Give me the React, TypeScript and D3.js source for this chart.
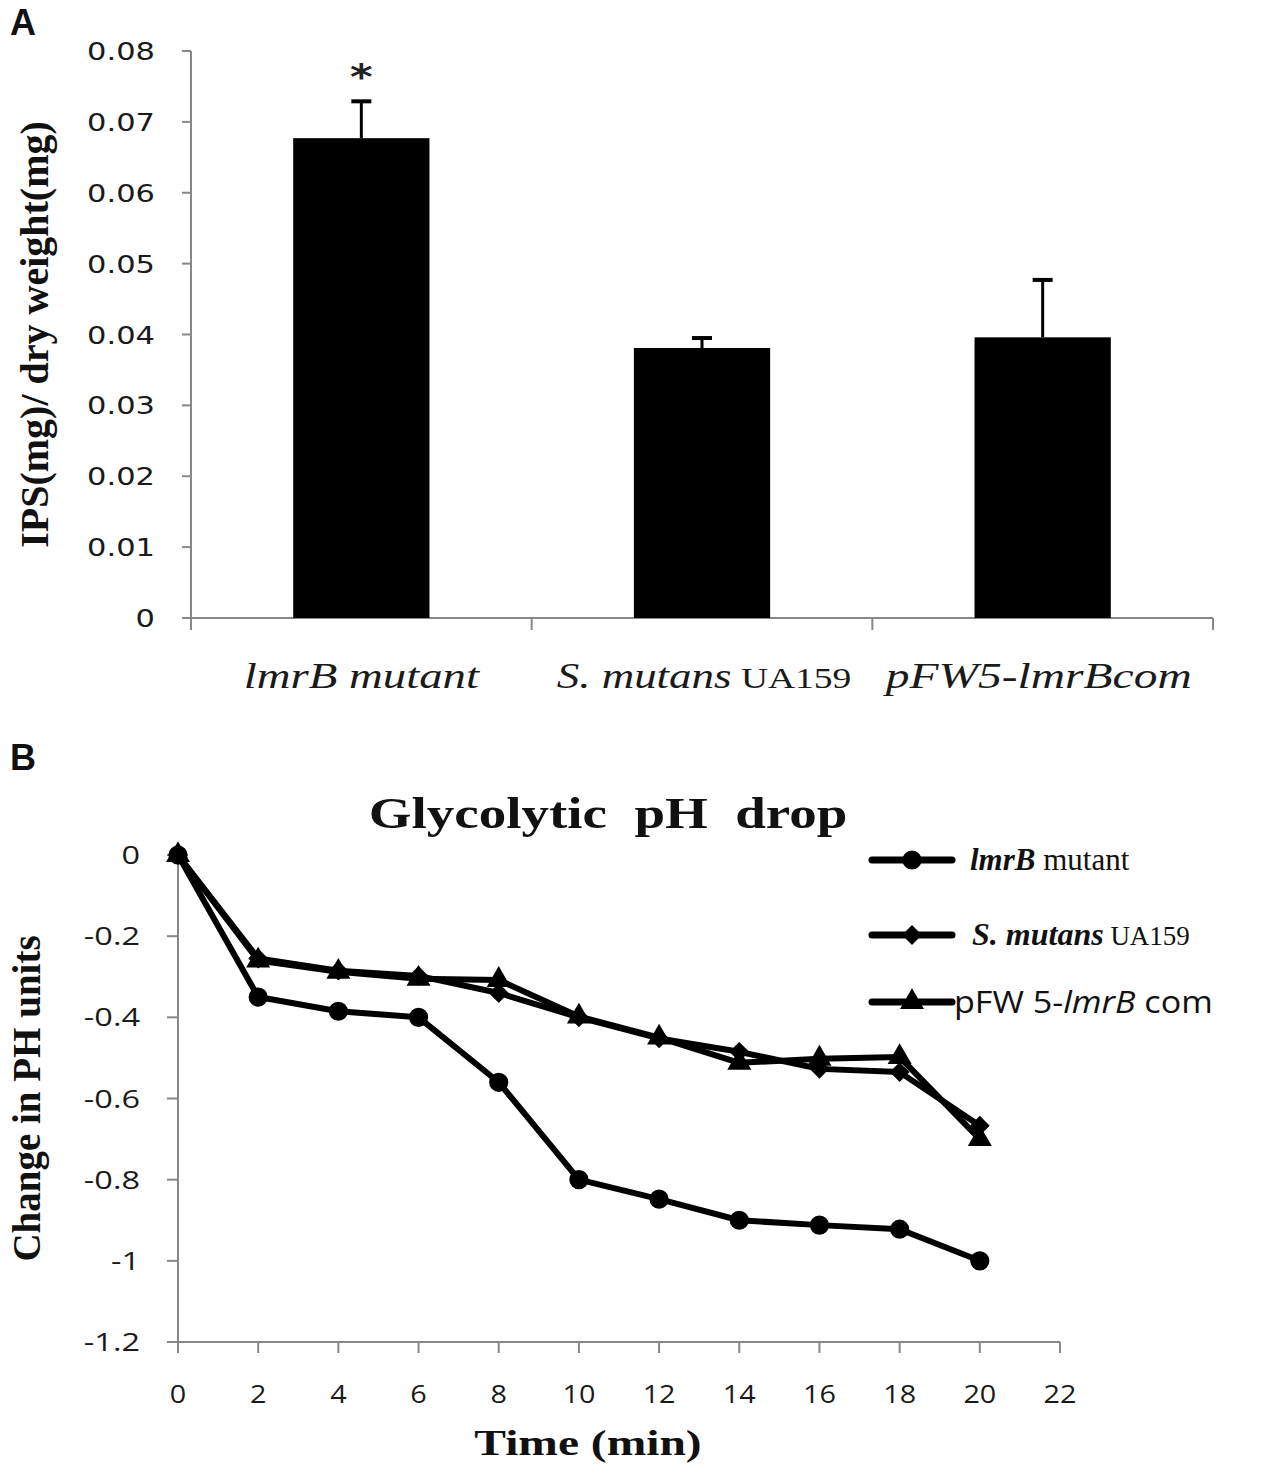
import * as d3 from "d3";
import { useMemo } from "react";
import type { ReactNode } from "react";

// Panel A: IPS per dry weight
const barCategories = ["lmrB mutant", "S. mutans UA159", "pFW5-lmrBcom"];
const barValues = [0.0677, 0.0381, 0.0396];
const barErrors = [0.0052, 0.0014, 0.0081];
const barTicks = [0, 0.01, 0.02, 0.03, 0.04, 0.05, 0.06, 0.07, 0.08];

// Panel B: glycolytic pH drop
const times = [0, 2, 4, 6, 8, 10, 12, 14, 16, 18, 20];
const mutantDrop = [0, -0.35, -0.385, -0.4, -0.56, -0.8, -0.848, -0.9, -0.912, -0.922, -1.0];
const wildDrop = [0, -0.255, -0.285, -0.298, -0.34, -0.4, -0.452, -0.485, -0.527, -0.535, -0.667];
const compDrop = [0, -0.26, -0.288, -0.305, -0.308, -0.398, -0.45, -0.512, -0.502, -0.498, -0.7];
const phTicks = [0, -0.2, -0.4, -0.6, -0.8, -1, -1.2];
const timeTicks = [0, 2, 4, 6, 8, 10, 12, 14, 16, 18, 20, 22];

const W = 1267;
const H = 1469;
const AXIS = "#878787";
const INK = "#111";
const SERIF = "'Liberation Serif', 'Times New Roman', serif";
const SANS = "'Liberation Sans', Arial, sans-serif";

const A = { left: 191, right: 1213, top: 51, bottom: 618 };
const B = { left: 178, right: 1060, top: 855, bottom: 1342 };

// the source figure is stretched sideways, so text gets a horizontal scale
function Wide({
  x,
  y,
  sx,
  anchor = "start",
  children,
  ...rest
}: {
  x: number;
  y: number;
  sx: number;
  anchor?: "start" | "middle" | "end";
  children: ReactNode;
  [k: string]: unknown;
}) {
  return (
    <text transform={`translate(${x},${y}) scale(${sx},1)`} textAnchor={anchor} {...rest}>
      {children}
    </text>
  );
}

export default function App() {
  const xBand = useMemo(
    () =>
      d3
        .scaleBand()
        .domain(barCategories)
        .range([A.left, A.right])
        .paddingInner(0.6)
        .paddingOuter(0.3),
    [],
  );
  const yBar = useMemo(
    () => d3.scaleLinear().domain([0, 0.08]).range([A.bottom, A.top]),
    [],
  );

  const xTime = useMemo(
    () => d3.scaleLinear().domain([0, 22]).range([B.left, B.right]),
    [],
  );
  const yPh = useMemo(
    () => d3.scaleLinear().domain([-1.2, 0]).range([B.bottom, B.top]),
    [],
  );

  const line = d3
    .line<number>()
    .x((_, i) => xTime(times[i]))
    .y((d) => yPh(d));

  const series = [
    { name: "mutant", values: mutantDrop, symbol: d3.symbol(d3.symbolCircle, 290)() },
    { name: "wild", values: wildDrop, symbol: d3.symbol(d3.symbolDiamond2, 250)() },
    { name: "comp", values: compDrop, symbol: d3.symbol(d3.symbolTriangle, 250)() },
  ];

  const boundaries = d3
    .range(barCategories.length + 1)
    .map((i) => A.left + ((A.right - A.left) / barCategories.length) * i);
  const barCenter = (c: string) => (xBand(c) ?? 0) + xBand.bandwidth() / 2;

  const legendY = [860, 935, 1002];

  return (
    <div style={{ position: "absolute", left: 0, top: 0 }}>
      <svg width={W} height={H} viewBox={`0 0 ${W} ${H}`} style={{ display: "block", background: "#fff" }}>
        {/* ---------- Panel A ---------- */}
        <text x={10} y={35} fontFamily={SANS} fontWeight="bold" fontSize={36} fill={INK}>
          A
        </text>

        {/* y axis */}
        <line x1={A.left} x2={A.left} y1={A.top} y2={A.bottom} stroke={AXIS} strokeWidth={2} />
        {barTicks.map((t) => (
          <g key={t}>
            <line x1={A.left - 9} x2={A.left} y1={yBar(t)} y2={yBar(t)} stroke={AXIS} strokeWidth={2} />
            <Wide
              x={155}
              y={yBar(t) + 9}
              sx={1.22}
              anchor="end"
              fontFamily="'DejaVu Sans', Verdana, sans-serif"
              fontSize={25}
              fill="#1a1a1a"
            >
              {t === 0 ? "0" : t.toFixed(2)}
            </Wide>
          </g>
        ))}
        <text
          transform={`translate(48,${(A.top + A.bottom) / 2 + 0}) rotate(-90)`}
          textAnchor="middle"
          fontFamily={SERIF}
          fontWeight="bold"
          fontSize={40}
          fill={INK}
        >
          IPS(mg)/ dry weight(mg)
        </text>

        {/* x axis */}
        <line x1={A.left} x2={A.right} y1={A.bottom} y2={A.bottom} stroke={AXIS} strokeWidth={2} />
        {boundaries.map((b, i) => (
          <line key={i} x1={b} x2={b} y1={A.bottom} y2={A.bottom + 12} stroke={AXIS} strokeWidth={2} />
        ))}

        {/* bars + error bars */}
        {barCategories.map((c, i) => {
          const x = xBand(c) ?? 0;
          const cx = barCenter(c);
          const top = yBar(barValues[i]);
          const errTop = yBar(barValues[i] + barErrors[i]);
          return (
            <g key={c}>
              <rect x={x} y={top} width={xBand.bandwidth()} height={A.bottom - top} fill="#000" />
              <line x1={cx} x2={cx} y1={top} y2={errTop} stroke="#000" strokeWidth={3} />
              <line x1={cx - 10} x2={cx + 10} y1={errTop} y2={errTop} stroke="#000" strokeWidth={4} />
            </g>
          );
        })}
        <Wide
          x={barCenter(barCategories[0])}
          y={yBar(barValues[0] + barErrors[0]) - 12}
          sx={1.2}
          anchor="middle"
          fontFamily="'DejaVu Sans', sans-serif"
          fontWeight="bold"
          fontSize={36}
          fill="#222"
        >
          *
        </Wide>

        {/* category labels */}
        <g fontFamily={SERIF} fontSize={36} fill="#1a1a1a">
          <Wide x={barCenter(barCategories[0])} y={688} sx={1.3} anchor="middle" fontStyle="italic">
            lmrB mutant
          </Wide>
          <Wide x={barCenter(barCategories[1]) + 2} y={688} sx={1.25} anchor="middle">
            <tspan fontStyle="italic">S. mutans</tspan>
            <tspan fontSize={30}> UA159</tspan>
          </Wide>
          <Wide x={barCenter(barCategories[2]) - 4} y={688} sx={1.32} anchor="middle" fontStyle="italic">
            pFW5-lmrBcom
          </Wide>
        </g>

        {/* ---------- Panel B ---------- */}
        <text x={10} y={770} fontFamily={SANS} fontWeight="bold" fontSize={36} fill={INK}>
          B
        </text>
        <Wide
          x={608}
          y={828}
          sx={1.25}
          anchor="middle"
          fontFamily={SERIF}
          fontWeight="bold"
          fontSize={44}
          fill={INK}
          style={{ whiteSpace: "pre" }}
        >
          {"Glycolytic  pH  drop"}
        </Wide>

        {/* y axis */}
        <line x1={B.left} x2={B.left} y1={B.top} y2={B.bottom + 10} stroke={AXIS} strokeWidth={2} />
        {phTicks.map((t) => (
          <g key={t}>
            <line x1={B.left - 11} x2={B.left} y1={yPh(t)} y2={yPh(t)} stroke={AXIS} strokeWidth={2} />
            <Wide
              x={140}
              y={yPh(t) + 9}
              sx={1.3}
              anchor="end"
              fontFamily="'Open Sans', sans-serif"
              fontSize={25}
              fill="#1a1a1a"
            >
              {t === 0 ? "0" : String(t)}
            </Wide>
          </g>
        ))}
        <text
          transform={`translate(40,${(B.top + B.bottom) / 2 + 0}) rotate(-90)`}
          textAnchor="middle"
          fontFamily={SERIF}
          fontWeight="bold"
          fontSize={39}
          fill={INK}
        >
          Change in PH units
        </text>

        {/* x axis */}
        <line x1={B.left - 11} x2={B.right} y1={B.bottom} y2={B.bottom} stroke={AXIS} strokeWidth={2} />
        {timeTicks.map((t) => (
          <g key={t}>
            <line x1={xTime(t)} x2={xTime(t)} y1={B.bottom} y2={B.bottom + 11} stroke={AXIS} strokeWidth={2} />
            <Wide
              x={xTime(t)}
              y={1403}
              sx={1.15}
              anchor="middle"
              fontFamily="'Open Sans', sans-serif"
              fontSize={25}
              fill="#1a1a1a"
            >
              {t}
            </Wide>
          </g>
        ))}
        <Wide
          x={588}
          y={1455}
          sx={1.32}
          anchor="middle"
          fontFamily={SERIF}
          fontWeight="bold"
          fontSize={36}
          fill={INK}
        >
          Time (min)
        </Wide>

        {/* lines */}
        {series.map((s) => (
          <g key={s.name}>
            <path
              d={line(s.values) ?? ""}
              fill="none"
              stroke="#000"
              strokeWidth={6}
              strokeLinejoin="round"
            />
            {s.values.map((v, i) => (
              <path
                key={i}
                d={s.symbol ?? ""}
                transform={`translate(${xTime(times[i])},${yPh(v)})`}
                fill="#000"
              />
            ))}
          </g>
        ))}

        {/* legend */}
        {series.map((s, i) => (
          <g key={s.name} transform={`translate(0,${legendY[i]})`}>
            <line x1={872} x2={952} stroke="#000" strokeWidth={7} strokeLinecap="round" />
            <path d={s.symbol ?? ""} transform="translate(912,0)" fill="#000" />
          </g>
        ))}
        <text x={970} y={legendY[0] + 10} fontFamily={SERIF} fontSize={31} fill={INK}>
          <tspan fontStyle="italic" fontWeight="bold">lmrB</tspan>
          <tspan> mutant</tspan>
        </text>
        <text x={972} y={legendY[1] + 10} fontFamily={SERIF} fill={INK}>
          <tspan fontStyle="italic" fontWeight="bold" fontSize={32}>S. mutans</tspan>
          <tspan fontSize={27}> UA159</tspan>
        </text>
        <Wide
          x={954}
          y={legendY[2] + 11}
          sx={1.1}
          fontFamily="'Open Sans', sans-serif"
          fontSize={31}
          fill={INK}
        >
          <tspan>pFW 5-</tspan>
          <tspan fontStyle="italic">lmrB</tspan>
          <tspan> com</tspan>
        </Wide>
      </svg>
    </div>
  );
}
